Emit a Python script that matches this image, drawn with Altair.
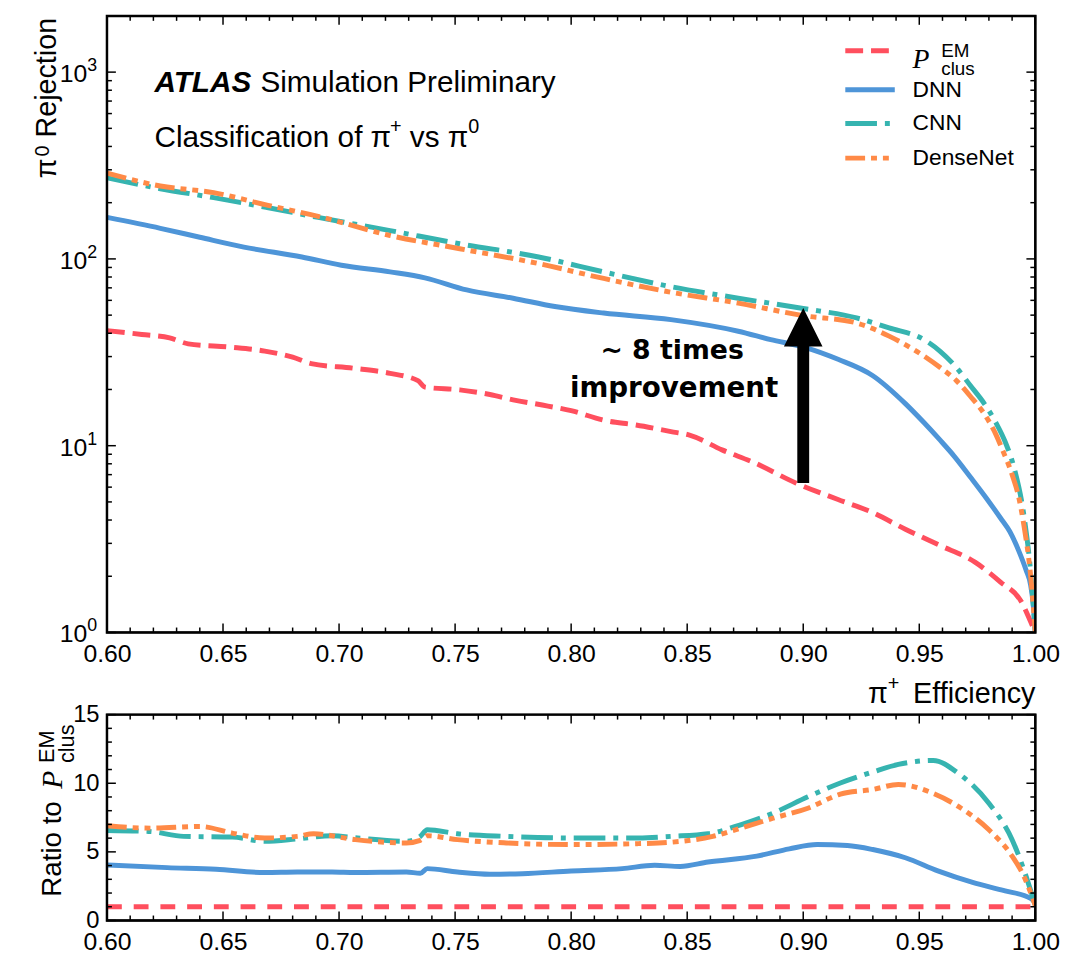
import altair as alt
import pandas as pd

# ---------------- data ----------------
# top panel: pi0 rejection vs pi+ efficiency
em_eff = [0.600, 0.615, 0.627, 0.635, 0.653, 0.668, 0.680, 0.688, 0.706, 0.722, 0.734, 0.737,
          0.752, 0.765, 0.775, 0.790, 0.800, 0.814, 0.828, 0.843, 0.851, 0.865, 0.879, 0.897,
          0.915, 0.930, 0.944, 0.959, 0.974, 0.985, 0.994, 0.998, 1.000]
em_rej = [41.3, 39.4, 37.8, 35.1, 33.7, 32.1, 29.8, 27.5, 26.0, 24.4, 22.3, 20.6,
          19.9, 18.8, 17.6, 16.3, 15.4, 13.7, 12.9, 11.9, 11.4, 9.5, 8.1, 6.3,
          5.15, 4.38, 3.57, 2.92, 2.38, 1.86, 1.46, 1.14, 1.0]

dnn_eff = [0.600, 0.623, 0.640, 0.659, 0.684, 0.701, 0.722, 0.737, 0.755, 0.775, 0.793, 0.814,
           0.843, 0.872, 0.886, 0.901, 0.915, 0.930, 0.944, 0.952, 0.959, 0.965, 0.972, 0.979,
           0.985, 0.989, 0.993, 0.996, 0.998, 0.999, 1.000]
dnn_rej = [166.8, 145.8, 130.6, 115.7, 102.4, 92.5, 85.2, 79.2, 68.2, 61.6, 55.6, 51.3,
           47.3, 41.0, 37.0, 33.5, 29.0, 23.7, 16.8, 13.3, 10.7, 8.8, 6.8, 5.22,
           4.1, 3.47, 2.71, 2.16, 1.79, 1.45, 1.0]

cnn_eff = [0.600, 0.623, 0.646, 0.669, 0.691, 0.722, 0.752, 0.786, 0.814, 0.843, 0.872, 0.900,
           0.923, 0.937, 0.952, 0.959, 0.966, 0.972, 0.978, 0.983, 0.987, 0.991, 0.995, 0.998, 1.000]
cnn_rej = [272, 237.6, 212.8, 188.4, 166.8, 141.8, 120.5, 102.4, 85.2, 71.0, 61.6, 54.3,
           48.3, 42.7, 37.0, 32.0, 26.2, 21.0, 16.8, 13.3, 10.5, 7.5, 4.3, 2.1, 1.0]

dense_eff = [0.600, 0.623, 0.646, 0.669, 0.691, 0.722, 0.752, 0.786, 0.814, 0.843, 0.872, 0.900,
             0.923, 0.937, 0.952, 0.959, 0.966, 0.972, 0.978, 0.983, 0.986, 0.990, 0.993, 0.995,
             0.998, 1.000]
dense_rej = [288, 245.6, 226.3, 194, 169, 133.4, 113.4, 94.4, 78.6, 66.3, 58.0, 49.7,
             45.4, 38.6, 30.2, 26.2, 22.3, 18.4, 14.8, 11.5, 9.4, 7.0, 5.2, 3.8,
             2.0, 1.0]

# bottom panel: ratio to P_clus^EM
em_ratio_eff = [0.600, 1.000]
em_ratio = [1.0, 1.0]

dnn_ratio_eff = [0.600, 0.626, 0.647, 0.668, 0.682, 0.697, 0.707, 0.729, 0.735, 0.738, 0.751,
                 0.765, 0.779, 0.800, 0.822, 0.836, 0.847, 0.859, 0.880, 0.894, 0.906, 0.919,
                 0.930, 0.944, 0.958, 0.973, 0.987, 0.998, 1.000]
dnn_ratio = [4.04, 3.85, 3.73, 3.49, 3.53, 3.53, 3.49, 3.53, 3.44, 3.78, 3.53,
             3.37, 3.41, 3.61, 3.78, 4.02, 3.94, 4.26, 4.69, 5.22, 5.53, 5.46,
             5.17, 4.57, 3.61, 2.77, 2.16, 1.61, 1.3]

cnn_ratio_eff = [0.600, 0.618, 0.633, 0.654, 0.668, 0.682, 0.697, 0.708, 0.729, 0.735, 0.738,
                 0.751, 0.772, 0.800, 0.829, 0.843, 0.859, 0.873, 0.887, 0.902, 0.916, 0.930,
                 0.941, 0.956, 0.967, 0.980, 0.990, 0.995, 1.000]
cnn_ratio = [6.56, 6.49, 6.13, 6.08, 5.77, 5.94, 6.18, 6.01, 5.77, 6.13, 6.61,
             6.32, 6.13, 6.01, 6.01, 6.13, 6.32, 6.97, 7.82, 9.01, 10.02, 10.82,
             11.37, 11.66, 10.7, 8.54, 5.89, 3.73, 1.08]

dense_ratio_eff = [0.600, 0.619, 0.640, 0.654, 0.668, 0.682, 0.689, 0.707, 0.729, 0.735, 0.738,
                   0.751, 0.772, 0.800, 0.829, 0.843, 0.861, 0.873, 0.887, 0.902, 0.916, 0.930,
                   0.941, 0.956, 0.967, 0.980, 0.990, 0.995, 1.000]
dense_ratio = [6.90, 6.73, 6.85, 6.37, 6.01, 6.13, 6.32, 5.89, 5.65, 5.84, 6.18,
               5.89, 5.65, 5.53, 5.60, 5.70, 6.13, 6.73, 7.45, 8.18, 9.21, 9.55,
               9.91, 9.26, 8.29, 6.61, 4.69, 3.25, 1.08]

# arrow annotation (efficiency, rejection from -> to)
arrow_eff = [0.90]
arrow_from = [6.31]
arrow_to = [40.0]
arrow_head = [43.1]

# ticks / tick labels
x_major = [0.60, 0.65, 0.70, 0.75, 0.80, 0.85, 0.90, 0.95, 1.00]
x_minor = [round(0.60 + 0.01 * i, 2) for i in range(41) if i % 5 != 0]
y_decades = [1, 10, 100, 1000]
y_decade_exp = ["0", "1", "2", "3"]
y_log_minor = [m * 10 ** k for k in range(3) for m in range(2, 10)]
r_major = [0, 5, 10, 15]
r_minor = [v for v in range(1, 15) if v % 5 != 0]

legend_names = ["DNN", "CNN", "DenseNet"]

# ---------------- styling ----------------
W = 938
H_TOP = 623
H_BOT = 208
FONT = "Liberation Sans"
C_EM, C_DNN, C_CNN, C_DENSE = "#ff4f5e", "#4e95d8", "#36b4b0", "#ff8a47"
D_EM = [18, 8]
D_CNN = [32, 8, 5, 8]
D_DENSE = [20, 6, 6, 6, 6, 6]
D_EM_BOT = [15, 12]
LW = 5
MAJ, MIN = 9, 5

one = pd.DataFrame({"a": [0]})

x_scale = alt.Scale(domain=[0.6, 1.0], nice=False, zero=False)
y_top_scale = alt.Scale(type="log", domain=[1, 2000], nice=False)
y_bot_scale = alt.Scale(domain=[0, 15], nice=False, zero=False)


def x_enc(size):
    return alt.X("eff:Q", scale=x_scale,
                 axis=alt.Axis(values=x_major, format=".2f", labelFontSize=size, labelFont=FONT,
                               labelColor="black", ticks=False, tickSize=0, domain=False,
                               grid=False, labelPadding=9, labelFlush=False,
                               labelOverlap=False, title=None))


Y_TOP = alt.Y("rej:Q", scale=y_top_scale, axis=None)
Y_BOT = alt.Y("ratio:Q", scale=y_bot_scale,
              axis=alt.Axis(values=r_major, labelFontSize=24, labelFont=FONT, labelColor="black",
                            ticks=False, tickSize=0, domain=False, grid=False, labelPadding=8,
                            labelFlush=False, labelOverlap=False, title=None))


def line(xs, ys, field, xe, ye, color, dash=None):
    df = pd.DataFrame({"eff": xs, field: ys})
    kw = dict(color=color, strokeWidth=LW, clip=True, interpolate="monotone")
    if dash is not None:
        kw["strokeDash"] = dash
    return alt.Chart(df).mark_line(**kw).encode(x=xe, y=ye)


def txt(text, x, y, size, font=FONT, **kw):
    return alt.Chart(one).mark_text(text=text, fontSize=size, font=font, color="black",
                                    **kw).encode(x=alt.value(x), y=alt.value(y))


def xticks(xe, vals, length, h):
    df = pd.DataFrame({"eff": vals})
    base = alt.Chart(df).mark_rule(color="black", strokeWidth=1.5)
    return (base.encode(x=xe, y=alt.value(h), y2=alt.value(h - length)) +
            base.encode(x=xe, y=alt.value(0), y2=alt.value(length)))


def yticks(ye, field, vals, length):
    df = pd.DataFrame({field: vals})
    base = alt.Chart(df).mark_rule(color="black", strokeWidth=1.5)
    return (base.encode(y=ye, x=alt.value(0), x2=alt.value(length)) +
            base.encode(y=ye, x=alt.value(W), x2=alt.value(W - length)))


def frame(h):
    return alt.Chart(one).mark_rect(fillOpacity=0, stroke="#000000", strokeWidth=2.5,
                                    strokeOpacity=1).encode(
        x=alt.value(0), x2=alt.value(W), y=alt.value(0), y2=alt.value(h))


# ---------------- top panel ----------------
XT = x_enc(25)
bound = alt.Chart(one).mark_rule(strokeOpacity=0).encode(
    x=alt.value(-99), x2=alt.value(-98), y=alt.value(300), y2=alt.value(301))

top_lines = [
    line(em_eff, em_rej, "rej", XT, Y_TOP, C_EM, D_EM),
    line(dnn_eff, dnn_rej, "rej", XT, Y_TOP, C_DNN),
    line(cnn_eff, cnn_rej, "rej", XT, Y_TOP, C_CNN, D_CNN),
    line(dense_eff, dense_rej, "rej", XT, Y_TOP, C_DENSE, D_DENSE),
]

ylab_df = pd.DataFrame({"rej": y_decades, "exp": y_decade_exp})
ylab10 = alt.Chart(ylab_df).mark_text(text="10", fontSize=25, font=FONT, color="black",
                                      align="right", baseline="middle", dy=2).encode(
    y=Y_TOP, x=alt.value(-20))
ylabexp = alt.Chart(ylab_df).mark_text(fontSize=18, font=FONT, color="black",
                                       align="left", baseline="middle", dy=-6).encode(
    y=Y_TOP, x=alt.value(-20), text="exp:N")

arrow_df = pd.DataFrame({"eff": arrow_eff, "rej": arrow_from, "rej2": arrow_to})
arrow_shaft = alt.Chart(arrow_df).mark_rule(color="black", strokeWidth=12).encode(
    x=XT, y=Y_TOP, y2="rej2:Q")
head_df = pd.DataFrame({"eff": arrow_eff, "rej": arrow_head})
arrow_headm = alt.Chart(head_df).mark_point(shape="M-1,1L0,-1L1,1Z", size=1521, filled=True,
                                            color="black", opacity=1, strokeWidth=0).encode(
    x=XT, y=Y_TOP)


def leg_line(y, color, dash=None):
    kw = dict(color=color, strokeWidth=LW)
    if dash is not None:
        kw["strokeDash"] = dash
    return alt.Chart(one).mark_rule(**kw).encode(
        x=alt.value(746), x2=alt.value(796), y=alt.value(y))


legend = [
    leg_line(35.3, C_EM, D_EM),
    leg_line(74.7, C_DNN),
    leg_line(108.7, C_CNN, D_CNN),
    leg_line(143.7, C_DENSE, D_DENSE),
    txt("P", 814, 45, 28, font="Liberation Serif", fontStyle="italic", align="left"),
    txt("EM", 843, 36, 19, align="left"),
    txt("clus", 843, 53.5, 19, align="left"),
    txt(legend_names[0], 814, 74.7, 23, align="left", baseline="middle"),
    txt(legend_names[1], 814, 108.7, 23, align="left", baseline="middle"),
    txt(legend_names[2], 814, 143.7, 23, align="left", baseline="middle"),
]

top_text = [
    txt("ATLAS", 48, 68, 30, fontStyle="italic", fontWeight="bold", align="left"),
    txt("Simulation Preliminary", 155, 68, 30, align="left"),
    # Classification of pi+ vs pi0 (superscripts as separate, raised texts)
    txt("Classification of π", 48, 123.7, 30, align="left"),
    txt("+", 286, 112, 20, align="left"),
    txt("vs π", 306, 123.7, 30, align="left"),
    txt("0", 365, 112, 20, align="left"),
    # y title: pi0 Rejection (rotated)
    txt("Rejection", -60, 2, 29, angle=270, align="right"),
    txt("0", -65, 142, 20, angle=270, align="left"),
    txt("π", -60, 164, 29, angle=270, align="left"),
    # x title: pi+ Efficiency
    txt("Efficiency", W, 685, 29, align="right"),
    txt("+", 789, 675, 20, align="left"),
    txt("π", 789, 685, 29, align="right"),
    # annotation
    txt("~ 8 times", 571, 338.7, 27, font="DejaVu Sans", fontWeight="bold", align="center"),
    txt("improvement", 573, 377, 28, font="DejaVu Sans", fontWeight="bold", align="center"),
]

top = alt.layer(
    bound,
    *top_lines,
    xticks(XT, x_major, MAJ, H_TOP), xticks(XT, x_minor, MIN, H_TOP),
    yticks(Y_TOP, "rej", y_decades, MAJ), yticks(Y_TOP, "rej", y_log_minor, MIN),
    ylab10, ylabexp,
    arrow_shaft, arrow_headm,
    *legend,
    *top_text,
    frame(H_TOP),
).properties(width=W, height=H_TOP)

# ---------------- bottom panel ----------------
XB = x_enc(25)
bot_lines = [
    line(em_ratio_eff, em_ratio, "ratio", XB, Y_BOT, C_EM, D_EM_BOT),
    line(dnn_ratio_eff, dnn_ratio, "ratio", XB, Y_BOT, C_DNN),
    line(cnn_ratio_eff, cnn_ratio, "ratio", XB, Y_BOT, C_CNN, D_CNN),
    line(dense_ratio_eff, dense_ratio, "ratio", XB, Y_BOT, C_DENSE, D_DENSE),
]
bot_text = [
    txt("Ratio to", -54, 184, 28, angle=270, align="left"),
    txt("P", -54, 75, 30, font="Liberation Serif", fontStyle="italic", angle=270, align="left"),
    txt("EM", -61, 49, 22, angle=270, align="left"),
    txt("clus", -40, 49, 22, angle=270, align="left"),
]
bottom = alt.layer(
    *bot_lines,
    xticks(XB, x_major, MAJ, H_BOT), xticks(XB, x_minor, MIN, H_BOT),
    yticks(Y_BOT, "ratio", r_major, MAJ), yticks(Y_BOT, "ratio", r_minor, MIN),
    *bot_text,
    frame(H_BOT),
).properties(width=W, height=H_BOT)

chart = alt.vconcat(top, bottom, spacing=83, bounds="flush").properties(
    padding={"left": 0, "top": 0, "right": 5, "bottom": 5},
    background="white",
).configure(font=FONT).configure_view(stroke="black", strokeWidth=1.8)

chart.save("out.html", embed_options={"renderer": "svg", "actions": False})
